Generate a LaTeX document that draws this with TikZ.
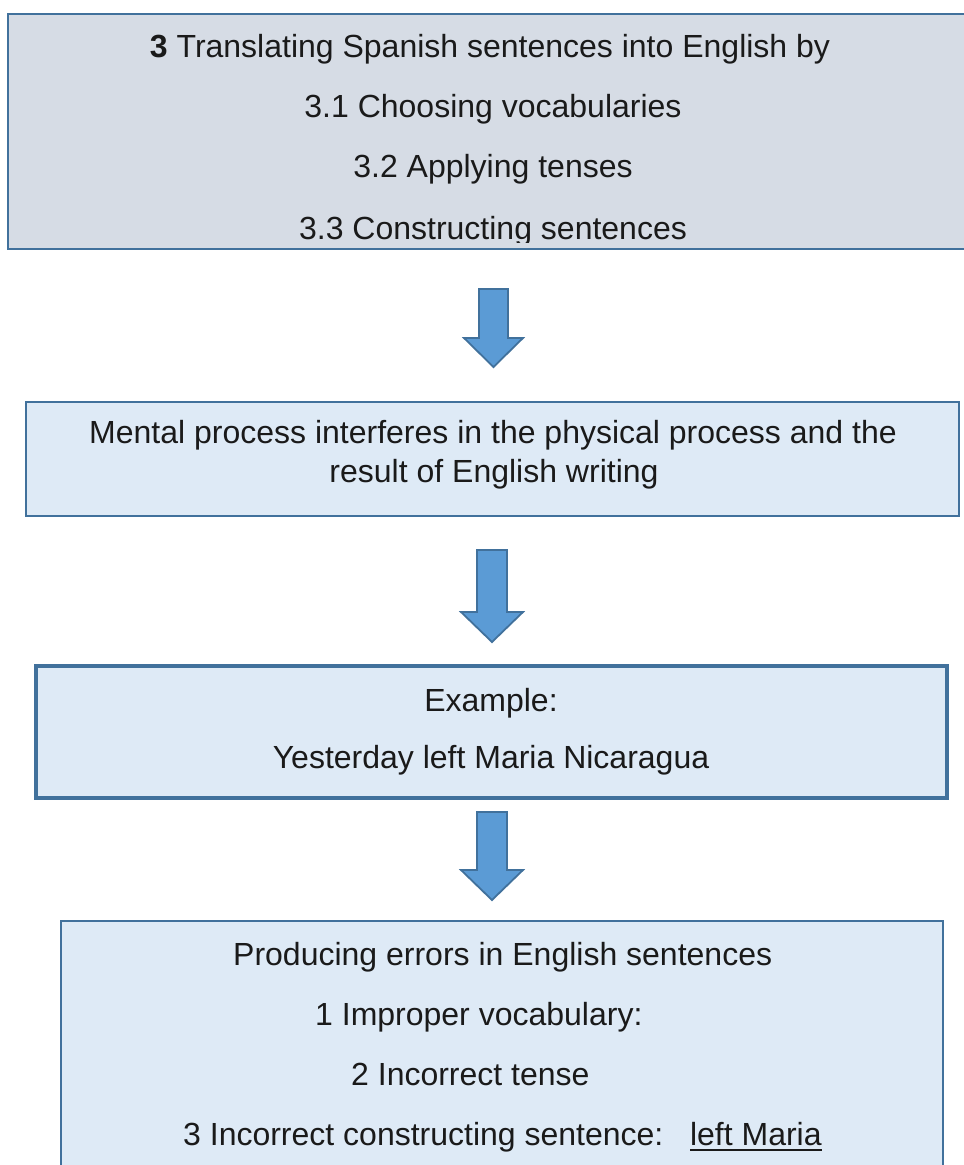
\documentclass[tikz,border=0pt]{standalone}
\usepackage{fontspec}
\setmainfont{Liberation Sans}
\definecolor{bordc}{HTML}{41719C}
\definecolor{topfill}{HTML}{D6DCE5}
\definecolor{boxfill}{HTML}{DEEAF6}
\definecolor{arrfill}{HTML}{5B9BD5}
\definecolor{txt}{HTML}{1A1A1A}
\tikzset{
  boxframe/.style={draw=bordc, line width=2.4pt, fill=boxfill},
  topframe/.style={draw=bordc, line width=2.6pt, fill=topfill},
  thickframe/.style={draw=bordc, line width=3.2pt, fill=boxfill},
  txtline/.style={anchor=base, inner sep=0pt, text=txt, font=\fontsize{32}{38}\selectfont},
  txtleft/.style={anchor=base west, inner sep=0pt, text=txt, font=\fontsize{32}{38}\selectfont},
  blockarrow/.style={draw=bordc, line width=1.8pt, fill=arrfill, line join=miter}
}
\begin{document}
\begin{tikzpicture}[x=1pt,y=-1pt]
\useasboundingbox (0,0) rectangle (964,1165);
% box 1
\draw[topframe] (8,14) rectangle (975,249);
\node[txtline] (t1) at (490,57) {\textbf{3} Translating Spanish sentences into English by};
\node[txtline] (t2) at (493,117) {3.1 Choosing vocabularies};
\node[txtline] (t3) at (493,177) {3.2 Applying tenses};
\begin{scope}
\clip (10,16) rectangle (962,242);
\node[txtline] (t4) at (493,239) {3.3 Constructing sentences};
\end{scope}
% arrow 1
\draw[blockarrow] (479,289) -- (508,289) -- (508,338) -- (523,338) -- (493.5,367) -- (464,338) -- (479,338) -- cycle;
% box 2
\draw[boxframe] (26,402) rectangle (959,516);
\node[txtline] (m1) at (493,443) {Mental process interferes in the physical process and the};
\node[txtline] (m2) at (494,482) {result of English writing};
% arrow 2
\draw[blockarrow] (477,550) -- (507,550) -- (507,612) -- (523,612) -- (492,642) -- (461,612) -- (477,612) -- cycle;
% box 3
\draw[thickframe] (36,666) rectangle (947,798);
\node[txtline] (e1) at (491,711) {Example:};
\node[txtline] (e2) at (491,768) {Yesterday left Maria Nicaragua};
% arrow 3
\draw[blockarrow] (477,812) -- (507,812) -- (507,870) -- (523,870) -- (492,900) -- (461,870) -- (477,870) -- cycle;
% box 4
\draw[boxframe] (61,921) rectangle (943,1180);
\node[txtleft] (p1) at (233,965) {Producing errors in English sentences};
\node[txtleft] (p2) at (315,1025) {1 Improper vocabulary:};
\node[txtleft] (p3) at (351,1085) {2 Incorrect tense};
\node[txtleft] (p4) at (183,1145) {3 Incorrect constructing sentence:\ \ \ left Maria};
\draw[txt, line width=2pt] (690,1149.5) -- (822,1149.5);
\end{tikzpicture}
\end{document}
